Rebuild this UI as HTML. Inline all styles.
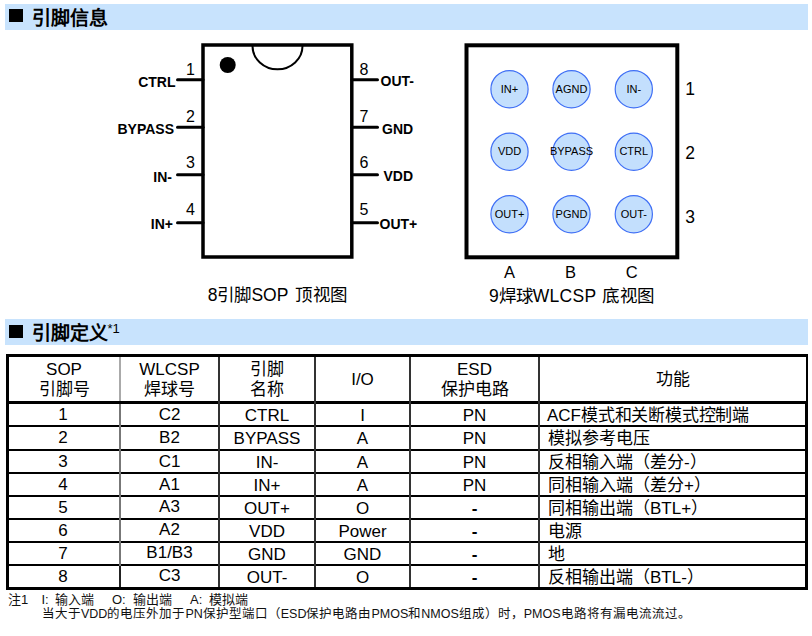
<!DOCTYPE html>
<html lang="zh-CN"><head><meta charset="utf-8">
<style>
html,body{margin:0;padding:0;background:#fff;}
body{width:812px;height:636px;position:relative;overflow:hidden;font-family:"Liberation Sans",sans-serif;color:#000;}
.bar{position:absolute;left:5px;width:803px;height:26px;background:#c8e3fd;}
.bar .sq{position:absolute;left:4px;width:14px;height:13px;background:#000;}
.bar .t{position:absolute;left:27px;font-size:19px;font-weight:bold;line-height:26px;top:0;white-space:nowrap;}
.a{position:absolute;white-space:nowrap;}
.cap{font-size:17.5px;font-weight:300;line-height:20px;}
svg{position:absolute;left:0;top:0;}

.hl{position:absolute;background:#000;}
.vl{position:absolute;background:#555;}
.hc{position:absolute;top:358px;height:44px;display:flex;align-items:center;justify-content:center;text-align:center;font-size:17px;line-height:20px;font-weight:300;}
.c{position:absolute;height:21px;line-height:23px;text-align:center;font-size:17px;white-space:nowrap;font-weight:300;}
.c.l{text-align:left;}
.note{position:absolute;font-size:13px;line-height:15px;white-space:nowrap;color:#111;font-weight:300;}
</style></head>
<body>
<div class="bar" style="top:4px"><div class="sq" style="top:5px"></div><div class="t" style="top:1.7px">引脚信息</div></div>

<svg width="812" height="320" viewBox="0 0 812 320">
  <!-- SOP box -->
  <rect x="203" y="45" width="148.8" height="212" fill="none" stroke="#000" stroke-width="3.5"/>
  <path d="M252.5 46 A25 23.3 0 0 0 302.5 46" fill="none" stroke="#000" stroke-width="2"/>
  <circle cx="227.7" cy="65" r="8" fill="#000"/>
  <g stroke="#000" stroke-width="3" stroke-linecap="round">
    <line x1="177.5" y1="79.8" x2="203" y2="79.8"/>
    <line x1="177.5" y1="127.2" x2="203" y2="127.2"/>
    <line x1="177.5" y1="174.8" x2="203" y2="174.8"/>
    <line x1="177.5" y1="222.7" x2="203" y2="222.7"/>
    <line x1="352" y1="79.8" x2="377.5" y2="79.8"/>
    <line x1="352" y1="127.2" x2="377.5" y2="127.2"/>
    <line x1="352" y1="174.8" x2="377.5" y2="174.8"/>
    <line x1="352" y1="222.7" x2="377.5" y2="222.7"/>
  </g>
  <g font-family="Liberation Sans" font-size="16" fill="#000">
    <text x="186" y="74.5">1</text>
    <text x="186" y="121.5">2</text>
    <text x="186" y="167.5">3</text>
    <text x="186" y="214.5">4</text>
    <text x="359.5" y="74.5">8</text>
    <text x="359.5" y="121.5">7</text>
    <text x="359.5" y="167.5">6</text>
    <text x="359.5" y="214.5">5</text>
  </g>
  <g font-family="Liberation Sans" font-size="14" font-weight="bold" fill="#000">
    <text x="175.5" y="86.7" text-anchor="end">CTRL</text>
    <text x="174" y="134.4" text-anchor="end">BYPASS</text>
    <text x="172" y="182.4" text-anchor="end">IN-</text>
    <text x="173" y="228.6" text-anchor="end">IN+</text>
    <text x="380.5" y="85.8">OUT-</text>
    <text x="382" y="133.5">GND</text>
    <text x="383.5" y="180.8">VDD</text>
    <text x="379.5" y="228.5">OUT+</text>
  </g>
  <!-- WLCSP -->
  <rect x="466.5" y="45.3" width="210.8" height="212" fill="none" stroke="#000" stroke-width="4"/>
  <g fill="#c3dffd" stroke="#3f6ff5" stroke-width="1.2">
    <circle cx="509.5" cy="89.2" r="18.6"/><circle cx="571.5" cy="89.2" r="18.6"/><circle cx="633.8" cy="89.2" r="18.6"/>
    <circle cx="509.5" cy="151.7" r="18.6"/><circle cx="571.5" cy="151.7" r="18.6"/><circle cx="633.8" cy="151.7" r="18.6"/>
    <circle cx="509.5" cy="214.2" r="18.6"/><circle cx="571.5" cy="214.2" r="18.6"/><circle cx="633.8" cy="214.2" r="18.6"/>
  </g>
  <g font-family="Liberation Sans" font-size="11" fill="#000" text-anchor="middle">
    <text x="509.5" y="92.6">IN+</text><text x="571.5" y="92.6">AGND</text><text x="633.8" y="92.6">IN-</text>
    <text x="509.5" y="154.6">VDD</text><text x="571.5" y="154.6">BYPASS</text><text x="633.8" y="154.6">CTRL</text>
    <text x="509.5" y="217.6">OUT+</text><text x="571.5" y="217.6">PGND</text><text x="633.8" y="217.6">OUT-</text>
  </g>
  <g font-family="Liberation Sans" font-size="17.5" fill="#000">
    <text x="685.2" y="95">1</text>
    <text x="685.2" y="158.5">2</text>
    <text x="685.2" y="222.8">3</text>
  </g>
  <g font-family="Liberation Sans" font-size="16.5" fill="#000">
    <text x="509.5" y="277.7" text-anchor="middle">A</text>
    <text x="570.5" y="277.7" text-anchor="middle">B</text>
    <text x="631.8" y="277.7" text-anchor="middle">C</text>
  </g>
</svg>
<div class="a cap" style="left:207.7px;top:284.7px;">8引脚SOP <span style="margin-left:2.5px;letter-spacing:0.4px">顶视图</span></div>
<div class="a cap" style="left:489px;top:286px;">9焊球<span style="letter-spacing:0.3px">WLCSP</span> <span style="margin-left:1px;letter-spacing:0.4px">底视图</span></div>

<div class="bar" style="top:319px"><div class="sq" style="top:6.3px"></div><div class="t" style="top:2.3px">引脚定义<span style="font-weight:normal;font-size:13px;position:absolute;left:75.5px;top:-5.8px;">*1</span></div></div>

<div class="tbl">
<div class="hl" style="left:6px;top:354px;width:802px;height:3px"></div>
<div class="hl" style="left:6px;top:401px;width:802px;height:3px"></div>
<div class="hl" style="left:6px;top:425px;width:802px;height:2px"></div>
<div class="hl" style="left:6px;top:449px;width:802px;height:2px"></div>
<div class="hl" style="left:6px;top:472px;width:802px;height:2px"></div>
<div class="hl" style="left:6px;top:495px;width:802px;height:2px"></div>
<div class="hl" style="left:6px;top:518px;width:802px;height:2px"></div>
<div class="hl" style="left:6px;top:541px;width:802px;height:2px"></div>
<div class="hl" style="left:6px;top:564px;width:802px;height:2px"></div>
<div class="hl" style="left:6px;top:587px;width:802px;height:3px"></div>
<div class="hl" style="left:6px;top:354px;width:3px;height:236px"></div>
<div class="hl" style="left:806px;top:354px;width:2px;height:50px"></div>
<div class="hl" style="left:805px;top:401px;width:3px;height:189px"></div>
<div class="vl" style="left:119px;top:357px;width:2px;height:44px;background:#aaa"></div>
<div class="vl" style="left:119px;top:404px;width:2px;height:162px;background:#777"></div>
<div class="vl" style="left:119px;top:566px;width:2px;height:21px;background:#222"></div>
<div class="vl" style="left:218px;top:357px;width:2px;height:230px;background:#333"></div>
<div class="vl" style="left:314px;top:357px;width:2px;height:230px;background:#333"></div>
<div class="vl" style="left:409px;top:357px;width:2px;height:230px;background:#333"></div>
<div class="vl" style="left:538px;top:357px;width:2px;height:230px;background:#333"></div>
<div class="hc" style="left:9px;width:110px">SOP<br>引脚号</div>
<div class="hc" style="left:121px;width:97px">WLCSP<br>焊球号</div>
<div class="hc" style="left:220px;width:94px">引脚<br>名称</div>
<div class="hc" style="left:316px;width:93px">I/O</div>
<div class="hc" style="left:411px;width:127px">ESD<br>保护电路</div>
<div class="hc" style="left:540px;width:265px">功能</div>
<div class="c" style="left:8px;width:110px;top:403.3px">1</div>
<div class="c" style="left:121px;width:97px;top:403px">C2</div>
<div class="c" style="left:220px;width:94px;top:403.5px">CTRL</div>
<div class="c" style="left:316px;width:93px;top:403.5px">I</div>
<div class="c" style="left:411px;width:127px;top:404px">PN</div>
<div class="c l" style="left:547px;top:404px">ACF<span style="letter-spacing:-0.2px">模式和关断模式控制端</span></div>
<div class="c" style="left:8px;width:110px;top:426.3px">2</div>
<div class="c" style="left:121px;width:97px;top:426px">B2</div>
<div class="c" style="left:220px;width:94px;top:426.5px">BYPASS</div>
<div class="c" style="left:316px;width:93px;top:426.5px">A</div>
<div class="c" style="left:411px;width:127px;top:427px">PN</div>
<div class="c l" style="left:548px;top:427px">模拟参考电压</div>
<div class="c" style="left:8px;width:110px;top:450.3px">3</div>
<div class="c" style="left:121px;width:97px;top:450px">C1</div>
<div class="c" style="left:220px;width:94px;top:450.5px">IN-</div>
<div class="c" style="left:316px;width:93px;top:450.5px">A</div>
<div class="c" style="left:411px;width:127px;top:451px">PN</div>
<div class="c l" style="left:548px;top:451px">反相输入端（差分-）</div>
<div class="c" style="left:8px;width:110px;top:473.3px">4</div>
<div class="c" style="left:121px;width:97px;top:473px">A1</div>
<div class="c" style="left:220px;width:94px;top:473.5px">IN+</div>
<div class="c" style="left:316px;width:93px;top:473.5px">A</div>
<div class="c" style="left:411px;width:127px;top:474px">PN</div>
<div class="c l" style="left:548px;top:474px">同相输入端（差分+）</div>
<div class="c" style="left:8px;width:110px;top:496.3px">5</div>
<div class="c" style="left:121px;width:97px;top:495px">A3</div>
<div class="c" style="left:220px;width:94px;top:496.5px">OUT+</div>
<div class="c" style="left:316px;width:93px;top:496.5px">O</div>
<div class="c" style="left:411px;width:127px;top:497px;font-weight:bold">-</div>
<div class="c l" style="left:548px;top:497px">同相输出端（BTL+）</div>
<div class="c" style="left:8px;width:110px;top:519.3px">6</div>
<div class="c" style="left:121px;width:97px;top:518px">A2</div>
<div class="c" style="left:220px;width:94px;top:519.5px">VDD</div>
<div class="c" style="left:316px;width:93px;top:519.5px">Power</div>
<div class="c" style="left:411px;width:127px;top:520px;font-weight:bold">-</div>
<div class="c l" style="left:548px;top:520px">电源</div>
<div class="c" style="left:8px;width:110px;top:542.3px">7</div>
<div class="c" style="left:121px;width:97px;top:541px">B1/B3</div>
<div class="c" style="left:220px;width:94px;top:542.5px">GND</div>
<div class="c" style="left:316px;width:93px;top:542.5px">GND</div>
<div class="c" style="left:411px;width:127px;top:543px;font-weight:bold">-</div>
<div class="c l" style="left:548px;top:543px">地</div>
<div class="c" style="left:8px;width:110px;top:565.3px">8</div>
<div class="c" style="left:121px;width:97px;top:564px">C3</div>
<div class="c" style="left:220px;width:94px;top:565.5px">OUT-</div>
<div class="c" style="left:316px;width:93px;top:565.5px">O</div>
<div class="c" style="left:411px;width:127px;top:566px;font-weight:bold">-</div>
<div class="c l" style="left:548px;top:566px">反相输出端（BTL-）</div>
</div>
<div class="note" style="left:8px;top:591.5px">注1</div>
<div class="note" style="left:41.5px;top:591.5px">I:</div>
<div class="note" style="left:54.5px;top:591.5px">输入端</div>
<div class="note" style="left:112px;top:591.5px">O:</div>
<div class="note" style="left:132.5px;top:591.5px">输出端</div>
<div class="note" style="left:190px;top:591.5px">A:</div>
<div class="note" style="left:208.5px;top:591.5px">模拟端</div>
<div class="note" style="left:42px;top:607px;font-size:12.5px">当大于VDD的电压外加于PN保护型端口（ESD保护电路由PMOS和NMOS组成）时，PMOS电路将有漏电流流过。</div>
</body></html>
